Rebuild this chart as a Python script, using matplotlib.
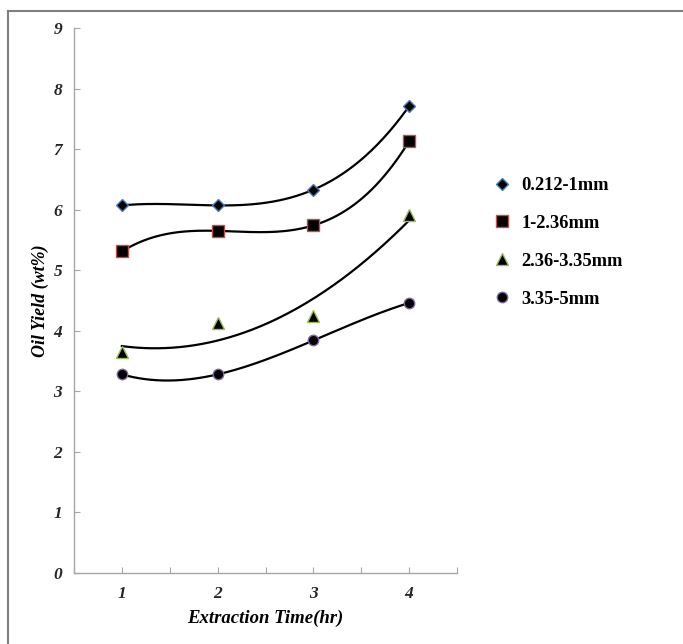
import numpy as np
import matplotlib.pyplot as plt
from matplotlib.lines import Line2D

# data
time_hr = [1, 2, 3, 4]
labels = ["0.212-1mm", "1-2.36mm", "2.36-3.35mm", "3.35-5mm"]
yield_a = [6.07, 6.07, 6.33, 7.71]
yield_b = [5.31, 5.65, 5.74, 7.13]
yield_c = [3.65, 4.13, 4.24, 5.92]
yield_d = [3.28, 3.28, 3.84, 4.46]
# excel style polynomial trendline order for each series
trend_order = [3, 3, 2, 3]

markers = ["D", "s", "^", "o"]
edge_colors = ["#4a7ebb", "#c0504d", "#9bbb59", "#8064a2"]
marker_sizes = [6.5, 8.5, 8.5, 7.5]

FONT = "Liberation Serif"
TICK_COLOR = "#262626"

fig = plt.figure(figsize=(6.83, 6.44), dpi=100)
ax = fig.add_axes([74 / 683, 71 / 644, 383 / 683, 545 / 644])

series = [yield_a, yield_b, yield_c, yield_d]
x = np.array(time_hr, dtype=float)
xs = np.linspace(x.min(), x.max(), 200)
for y, order in zip(series, trend_order):
    coef = np.polyfit(x, y, order)
    ax.plot(xs, np.polyval(coef, xs), color="black", lw=1.6, zorder=2)
for y, m, ec, ms in zip(series, markers, edge_colors, marker_sizes):
    ax.plot(x, y, linestyle="none", marker=m, markersize=ms,
            markerfacecolor="black", markeredgecolor=ec,
            markeredgewidth=1.0, zorder=3)

ax.set_xlim(0.5, 4.5)
ax.set_ylim(0, 9)
ax.set_xticks(time_hr)
ax.set_xticks(np.arange(0.5, 4.6, 1.0), minor=True)
ax.set_yticks(range(0, 10))

for side in ["top", "right"]:
    ax.spines[side].set_visible(False)
for side in ["left", "bottom"]:
    ax.spines[side].set_color("#a6a6a6")
    ax.spines[side].set_linewidth(1.0)

ax.tick_params(which="both", direction="in", length=4, width=0.8,
               color="#a6a6a6")
ax.tick_params(axis="y", pad=8.5)
ax.tick_params(axis="x", pad=9.7)
for lab in ax.get_xticklabels() + ax.get_yticklabels():
    lab.set_fontfamily(FONT)
    lab.set_fontweight("bold")
    lab.set_fontstyle("italic")
    lab.set_fontsize(12.5)
    lab.set_color(TICK_COLOR)

ax.set_xlabel("Extraction Time(hr)", family=FONT, weight="bold",
              style="italic", fontsize=13.5, labelpad=5)
ax.set_ylabel("Oil Yield (wt%)", family=FONT, weight="bold",
              style="italic", fontsize=13, labelpad=3)

handles = [Line2D([], [], linestyle="none", marker=m, markersize=ms,
                  markerfacecolor="black", markeredgecolor=ec,
                  markeredgewidth=1.0)
           for m, ec, ms in zip(markers, edge_colors, marker_sizes)]
fig.legend(handles, labels, loc="upper left",
           bbox_to_anchor=(493 / 683, 1 - 177 / 644), frameon=False,
           prop={"family": FONT, "weight": "bold", "size": 13.3},
           handlelength=1.0, handletextpad=0.55, labelspacing=1.13,
           borderaxespad=0, borderpad=0)

# outer frame of the picture
fig.add_artist(Line2D([8 / 683, 1], [1 - 11 / 644, 1 - 11 / 644],
                      transform=fig.transFigure, color="#7f7f7f", lw=1.5))
fig.add_artist(Line2D([8 / 683, 8 / 683], [0, 1 - 11 / 644],
                      transform=fig.transFigure, color="#7f7f7f", lw=1.5))

fig.savefig("out.png", dpi=100)
